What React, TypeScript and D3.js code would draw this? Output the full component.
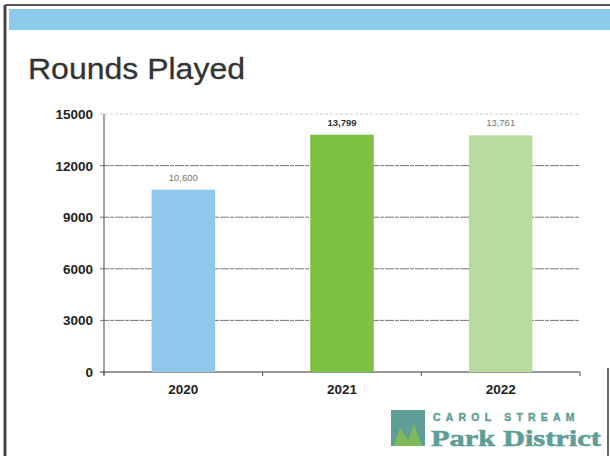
import React from "react";
import * as d3 from "d3";

const years = ["2020", "2021", "2022"];
const rounds = [10600, 13799, 13761];
const valueLabels = ["10,600", "13,799", "13,761"];
const barColors = ["#8fc8ec", "#7dc243", "#b8dc9f"];
const yTicks = [0, 3000, 6000, 9000, 12000, 15000];

const W = 610;
const H = 456;
const margin = { left: 104, right: 30, top: 114, bottom: 84 };

export default function App() {
  const x = d3
    .scaleBand<string>()
    .domain(years)
    .range([margin.left, W - margin.right])
    .paddingInner(0.6)
    .paddingOuter(0.3);
  const y = d3.scaleLinear().domain([0, 15000]).range([H - margin.bottom, margin.top]);
  const boundaries = [margin.left, ...years.map((yr) => (x(yr) as number) + x.bandwidth() + x.step() * 0.3)];

  return (
    <svg
      width={W}
      height={H}
      style={{ position: "absolute", left: 0, top: 0, background: "#fff" }}
      fontFamily="Liberation Sans, Arial, sans-serif"
    >
      {/* frame */}
      <line x1={5} y1={5} x2={W} y2={5} stroke="#555" strokeWidth={2} />
      <line x1={5} y1={5} x2={5} y2={H} stroke="#444" strokeWidth={3} />
      <line x1={608} y1={368} x2={608} y2={H} stroke="#666" strokeWidth={2} />
      <rect x={9} y={9} width={W - 9} height={21} fill="#8ccbe9" />

      <text x={28} y={79} fontSize={30} fill="#333" stroke="#333" strokeWidth={0.3} textLength={217} lengthAdjust="spacingAndGlyphs">
        Rounds Played
      </text>

      {/* grid */}
      {yTicks.map((t) => (
        <g key={t}>
          <line
            x1={margin.left - 4}
            x2={W - margin.right}
            y1={y(t)}
            y2={y(t)}
            stroke={t === 15000 ? "#b8bcc8" : t === 0 ? "#333" : "#666"}
            strokeWidth={t === 15000 ? 0.8 : t === 0 ? 1.2 : 0.9}
            strokeDasharray={t === 15000 ? "3 2" : t === 0 ? "none" : "9 1 4 1"}
          />
          <text
            x={93}
            y={y(t) + 5}
            textAnchor="end"
            fontSize={13.5}
            fontWeight="bold"
            fill="#222"
          >
            {t}
          </text>
        </g>
      ))}
      <line x1={margin.left} x2={margin.left} y1={y(15000)} y2={y(0) + 3} stroke="#444" strokeWidth={1} />
      {boundaries.map((bx, i) => (
        <line key={"tk" + i} x1={bx} x2={bx} y1={y(0)} y2={y(0) + 4} stroke="#555" strokeWidth={1} />
      ))}

      {/* bars */}
      {years.map((yr, i) => (
        <g key={yr}>
          <rect
            x={x(yr)}
            y={y(rounds[i])}
            width={x.bandwidth()}
            height={y(0) - y(rounds[i])}
            fill={barColors[i]}
          />
          <text
            x={(x(yr) as number) + x.bandwidth() / 2}
            y={y(rounds[i]) - 9}
            textAnchor="middle"
            fontSize={9.5}
            fontWeight={i === 1 ? "bold" : "normal"}
            fill={i === 1 ? "#333" : "#777"}
          >
            {valueLabels[i]}
          </text>
          <text
            x={(x(yr) as number) + x.bandwidth() / 2}
            y={y(0) + 22}
            textAnchor="middle"
            fontSize={13.5}
            fontWeight="bold"
            fill="#222"
          >
            {yr}
          </text>
        </g>
      ))}

      {/* logo */}
      <g>
        <rect x={391} y={410} width={34} height={36} fill="#5f9e97" />
        <path d="M394 446 L400 428 L408 440 L414 424 L422 446 Z" fill="#8cc63f" opacity={0.7} />
        <text x={433} y={421} fontSize={10.5} fontWeight="bold" fill="#5f9e97" stroke="#5f9e97" strokeWidth={0.4} letterSpacing={5.2}>
          CAROL STREAM
        </text>
        <text x={431} y={446} fontSize={24} fontWeight="bold" fill="#5f9e97" stroke="#5f9e97" strokeWidth={0.6} fontFamily="Liberation Serif, Times New Roman, serif" textLength={170} lengthAdjust="spacingAndGlyphs">
          Park District
        </text>
      </g>
    </svg>
  );
}
